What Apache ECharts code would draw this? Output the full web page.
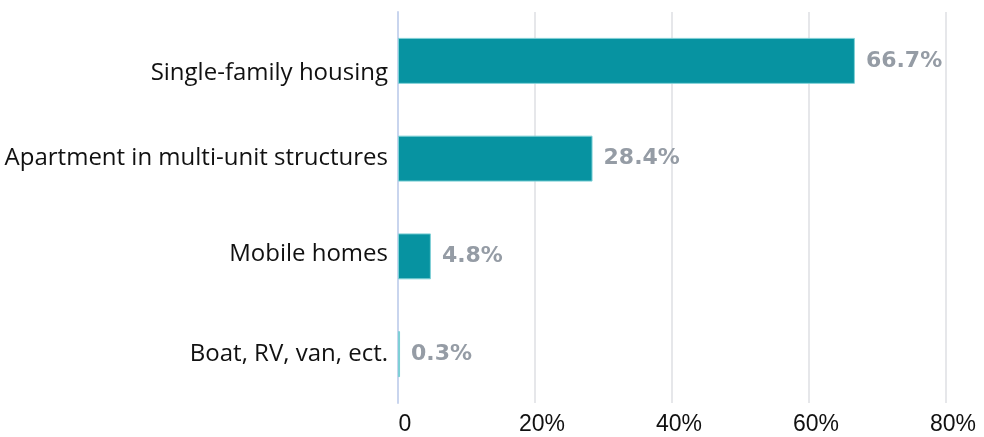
<!DOCTYPE html>
<html>
<head>
<meta charset="utf-8">
<script src="https://cdn.jsdelivr.net/npm/echarts@6/dist/echarts.min.js"></script>
<style>
  html, body { margin: 0; padding: 0; background: #ffffff; }
  #chart { width: 984px; height: 437px; }
</style>
</head>
<body>
<div id="chart"></div>
<script>
// Housing types, listed bottom-to-top as the category axis draws them
const categories = ['Boat, RV, van, ect.', 'Mobile homes', 'Apartment in multi-unit structures', 'Single-family housing'];
const shares = [0.3, 4.8, 28.4, 66.7];
const xTicks = [0, 20, 40, 60, 80];

const chart = echarts.init(document.getElementById('chart'), null, { renderer: 'canvas' });

const labelFont = { color: '#111111', fontFamily: 'Open Sans', fontSize: 24 };

chart.setOption({
  animation: false,
  backgroundColor: '#ffffff',
  grid: { left: 398, right: 38, top: 12, bottom: 34, containLabel: false },
  xAxis: {
    type: 'value',
    min: xTicks[0],
    max: xTicks[xTicks.length - 1],
    interval: 20,
    axisLine: { show: false },
    axisTick: { show: false },
    splitLine: { show: true, lineStyle: { color: '#e6e7ea', width: 2 } },
    axisLabel: {
      color: '#111111',
      fontFamily: 'Liberation Sans',
      fontSize: 23,
      margin: 10,
      padding: [0, 0, 0, 14],
      formatter: v => (v === 0 ? '0' : v + '%')
    }
  },
  yAxis: {
    type: 'category',
    data: categories,
    axisLine: { show: true, lineStyle: { color: '#c9d5ee', width: 2 } },
    axisTick: { show: false },
    axisLabel: {
      ...labelFont,
      margin: 10,
      // the top label sits a little below its bar's centre line
      formatter: name =>
        name === 'Single-family housing' ? '{low|' + name + '}'
          : name === 'Mobile homes' ? '{high|' + name + '}'
          : '{n|' + name + '}',
      rich: {
        n: { ...labelFont },
        low: { ...labelFont, padding: [24, 0, 0, 0] },
        high: { ...labelFont, padding: [0, 0, 4, 0] }
      }
    }
  },
  series: [{
    type: 'bar',
    data: shares,
    barWidth: '47%',
    itemStyle: { color: '#0793a1', borderColor: '#7fd0d6', borderWidth: 1 },
    label: {
      show: true,
      position: 'right',
      distance: 11,
      color: '#959ca5',
      fontFamily: 'DejaVu Sans',
      fontWeight: 'bold',
      fontSize: 22,
      formatter: p => p.value.toFixed(1) + '%'
    }
  }]
});
</script>
</body>
</html>
